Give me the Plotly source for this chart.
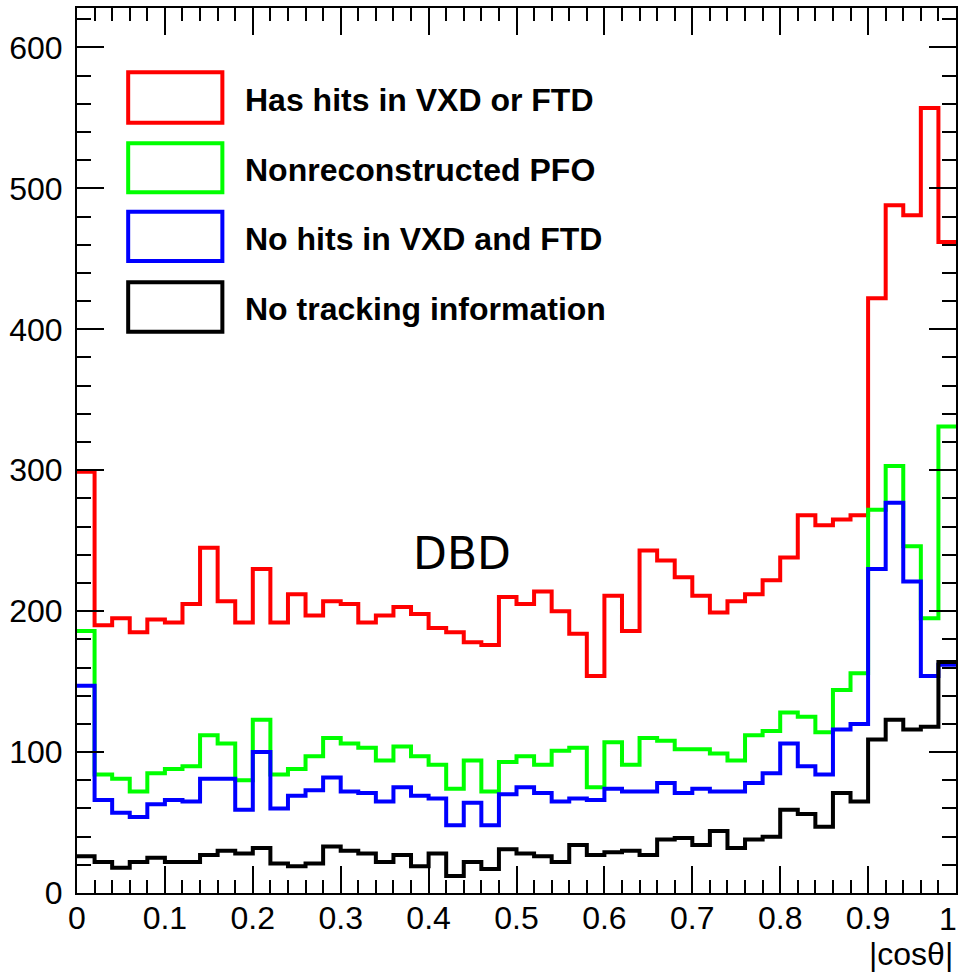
import numpy as np
import plotly.graph_objects as go

# 50 bins of |cos(theta)| from 0 to 1
bin_edges = np.linspace(0.0, 1.0, 51)

has_hits_vxd_or_ftd = [299, 190, 195, 185, 194, 192, 205, 245, 207, 192,
                       230, 192, 212, 197, 207, 205, 192, 197, 203, 198,
                       188, 185, 178, 176, 210, 205, 214, 200, 184, 154,
                       211, 186, 243, 236, 224, 211, 199, 207, 212, 222,
                       238, 268, 261, 265, 268, 422, 488, 481, 557, 462]

nonreconstructed_pfo = [186, 84, 81, 72, 85, 88, 90, 112, 106, 80,
                        123, 84, 88, 97, 110, 106, 103, 94, 104, 97,
                        91, 74, 94, 72, 93, 97, 91, 101, 103, 75,
                        107, 91, 110, 108, 102, 102, 99, 94, 112, 115,
                        128, 125, 114, 144, 156, 272, 303, 246, 195, 331]

no_hits_vxd_and_ftd = [147, 66, 57, 54, 63, 66, 65, 81, 81, 59,
                       100, 60, 69, 73, 82, 72, 71, 65, 75, 69,
                       67, 48, 64, 48, 70, 75, 71, 65, 67, 66,
                       74, 72, 72, 78, 71, 74, 72, 72, 78, 85,
                       106, 90, 84, 116, 120, 230, 277, 221, 154, 162]

no_tracking_info = [26, 22, 18, 22, 25, 22, 22, 27, 30, 28,
                    32, 21, 19, 21, 33, 30, 28, 22, 27, 19,
                    28, 12, 22, 17, 31, 28, 26, 22, 34, 27,
                    29, 30, 27, 38, 39, 34, 44, 32, 38, 40,
                    59, 56, 47, 71, 65, 109, 123, 116, 118, 164]

series_names = ["Has hits in VXD or FTD", "Nonreconstructed PFO",
                "No hits in VXD and FTD", "No tracking information"]
series_values = [has_hits_vxd_or_ftd, nonreconstructed_pfo,
                 no_hits_vxd_and_ftd, no_tracking_info]
series_colors = ["#ff0000", "#00ff00", "#0000ff", "#000000"]

x_tickvals = [0, 0.1, 0.2, 0.3, 0.4, 0.5, 0.6, 0.7, 0.8, 0.9, 1.0]
x_ticktext = ["0", "0.1", "0.2", "0.3", "0.4", "0.5", "0.6", "0.7", "0.8", "0.9", "1"]

W, H = 961, 973
ML, MR, MT, MB = 77, 3, 8, 80
PW, PH = W - ML - MR, H - MT - MB


def px_x(px):
    return (px - ML) / PW


def px_y(py):
    return 1 - (py - MT) / PH


fig = go.Figure()
for name, vals, col in zip(series_names, series_values, series_colors):
    fig.add_trace(go.Scatter(
        x=bin_edges, y=list(vals) + [vals[-1]],
        mode="lines", line=dict(color=col, width=4, shape="hv"),
        name=name, showlegend=False, hoverinfo="skip"))

FONT = "Liberation Sans, Arial, sans-serif"
tickfont = dict(family=FONT, size=32, color="black")

fig.update_xaxes(range=[0, 1], showline=True, linecolor="black", linewidth=2,
                 mirror="ticks", ticks="inside", ticklen=27, tickwidth=2,
                 tickcolor="black", tickmode="array",
                 tickvals=x_tickvals[:-1], ticktext=x_ticktext[:-1],
                 minor=dict(ticks="inside", ticklen=13, tickwidth=2,
                            tickcolor="black", dtick=0.02, tick0=0),
                 showgrid=False, zeroline=False, tickfont=tickfont,
                 ticklabelstandoff=-4)
fig.update_yaxes(range=[0, 628], showline=True, linecolor="black", linewidth=2,
                 mirror="ticks", ticks="inside", ticklen=27, tickwidth=2,
                 tickcolor="black", tick0=0, dtick=100,
                 minor=dict(ticks="inside", ticklen=14, tickwidth=2,
                            tickcolor="black", dtick=20),
                 showgrid=False, zeroline=False, tickfont=tickfont,
                 ticklabelstandoff=6)

# Legend drawn manually (ROOT-style outlined boxes)
box_tops = [72.3, 143.3, 211.7, 282.3]
box_bottoms = [122.7, 192.3, 261.0, 331.7]
text_centers = [100.3, 170.0, 238.5, 309.0]
shapes = []
annotations = []
for name, col, t, b, tc in zip(series_names, series_colors, box_tops, box_bottoms, text_centers):
    shapes.append(dict(type="rect", xref="paper", yref="paper",
                       x0=px_x(128.3), x1=px_x(222.7), y0=px_y(b), y1=px_y(t),
                       line=dict(color=col, width=4), fillcolor="rgba(0,0,0,0)"))
    annotations.append(dict(text="<b>" + name + "</b>", xref="paper", yref="paper",
                            x=px_x(243), y=px_y(tc), xanchor="left", yanchor="middle",
                            showarrow=False,
                            font=dict(family=FONT, size=32, color="black")))

# last x tick label "1", at the very right edge of the page
annotations.append(dict(text=x_ticktext[-1], xref="paper", yref="paper",
                        x=px_x(961), y=px_y(919), xanchor="right", yanchor="middle",
                        showarrow=False, font=tickfont))

annotations.append(dict(text="DBD", xref="x", yref="y", x=0.438, y=241,
                        xanchor="center", yanchor="middle", showarrow=False,
                        font=dict(family="DejaVu Sans", size=44, color="black")))
annotations.append(dict(text="|cosθ|", xref="paper", yref="paper",
                        x=px_x(957), y=px_y(954), xanchor="right", yanchor="middle",
                        showarrow=False,
                        font=dict(family=FONT, size=32, color="black")))

fig.update_layout(width=W, height=H, margin=dict(l=ML, r=MR, t=MT, b=MB),
                  plot_bgcolor="white", paper_bgcolor="white",
                  shapes=shapes, annotations=annotations, showlegend=False)

fig.write_html("out.html")
